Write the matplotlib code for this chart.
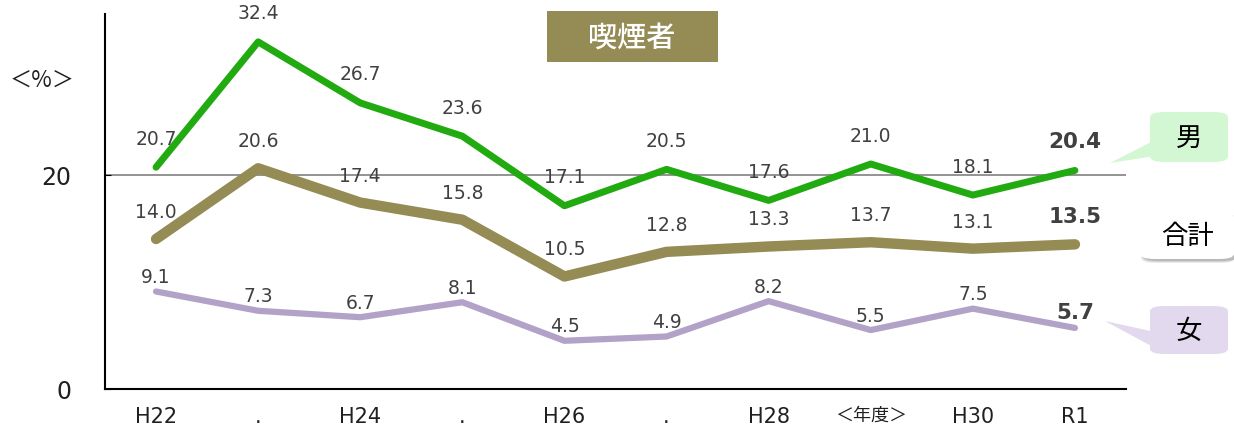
import matplotlib
matplotlib.use("Agg")
import matplotlib.pyplot as plt
from matplotlib.patches import FancyBboxPatch, Polygon

plt.rcParams['font.family'] = ['DejaVu Sans', 'Noto Sans CJK JP']

# データ
years = ['H22', '.', 'H24', '.', 'H26', '.', 'H28', '＜年度＞', 'H30', 'R1']
male = [20.7, 32.4, 26.7, 23.6, 17.1, 20.5, 17.6, 21.0, 18.1, 20.4]
total = [14.0, 20.6, 17.4, 15.8, 10.5, 12.8, 13.3, 13.7, 13.1, 13.5]
female = [9.1, 7.3, 6.7, 8.1, 4.5, 4.9, 8.2, 5.5, 7.5, 5.7]

c_male = '#22AA11'
c_total = '#948B55'
c_female = '#B3A2C7'

W, H = 1234, 435
fig = plt.figure(figsize=(W / 100, H / 100), dpi=100)
ax = fig.add_axes([105 / W, 1 - 390 / H, (1126 - 105) / W, (390 - 15) / H])

x = list(range(len(years)))
ax.axhline(20, color='#808080', lw=1.2, zorder=1)
ax.plot(x, female, color=c_female, lw=4.5, solid_capstyle='round', zorder=2)
ax.plot(x, total, color=c_total, lw=7.5, solid_capstyle='round', zorder=3)
ax.plot(x, male, color=c_male, lw=5, solid_capstyle='round', zorder=4)

def labels(vals, dy):
    for i, v in enumerate(vals):
        last = i == len(vals) - 1
        ax.annotate(f'{v:.1f}', (i, v), xytext=(0, dy), textcoords='offset points',
                    ha='center', va='bottom', fontsize=15.5 if last else 13.5,
                    fontweight='bold' if last else 'normal', color='#404040',
                    zorder=5)

labels(male, 14)
labels(total, 13)
labels(female, 4)

ax.set_xlim(-0.5, 9.5)
ax.set_ylim(0, 35)
ax.set_yticks([0, 20])
ax.set_yticklabels(['0', '20'], fontsize=17, color='#202020')
ax.set_xticks(x)
ax.set_xticklabels(years, fontsize=15, color='#202020')
for t in ax.get_xticklabels():
    if t.get_text() == '＜年度＞':
        t.set_fontsize(13)
        t.set_family(['Noto Sans CJK JP'])
ax.tick_params(axis='x', length=0, pad=12)
ax.tick_params(axis='y', length=4, direction='in', pad=24)
ax.spines['top'].set_visible(False)
ax.spines['right'].set_visible(False)
ax.spines['left'].set_linewidth(1.5)
ax.spines['bottom'].set_linewidth(1.5)

fig.text(42 / W, 1 - 80 / H, '＜%＞', ha='center', va='center', fontsize=16,
         color='#202020', family=['Noto Sans CJK JP'])

# タイトル
def px(xp, yp):
    return (xp / W, 1 - yp / H)

fig.patches.append(FancyBboxPatch(px(547, 63), 171 / W, 51 / H,
                                  boxstyle='square,pad=0', transform=fig.transFigure,
                                  facecolor=c_total, edgecolor='none'))
fig.text(*px(632, 38), '喫煙者', ha='center', va='center', fontsize=21,
         color='white', fontweight='medium', family=['Noto Sans CJK JP'])

# 凡例ボックス
def callout(x0, y0, x1, y1, face, label, tip=None, shadow=False):
    if tip is not None:
        fig.patches.append(Polygon([px(*tip), px(x0 + 5, y1 - 22), px(x0 + 5, y1 - 6)],
                                   closed=True, transform=fig.transFigure,
                                   facecolor=face, edgecolor='none'))
    if shadow:
        for k, a in enumerate([0.08, 0.10, 0.12]):
            fig.patches.append(FancyBboxPatch(px(x0 + 1 + k, y1 + 4 - k), (x1 - x0) / W,
                                              (y1 - y0) / H,
                                              boxstyle='round,pad=0,rounding_size=0.012',
                                              transform=fig.transFigure,
                                              facecolor='black', alpha=a, edgecolor='none'))
    fig.patches.append(FancyBboxPatch(px(x0, y1), (x1 - x0) / W, (y1 - y0) / H,
                                      boxstyle='round,pad=0,rounding_size=0.012',
                                      transform=fig.transFigure,
                                      facecolor=face, edgecolor='none'))
    fig.text(*px((x0 + x1) / 2, (y0 + y1) / 2), label, ha='center', va='center',
             fontsize=19, color='black', family=['Noto Sans CJK JP'])

callout(1150, 113, 1228, 163, '#D2F7D2', '男', tip=(1110, 164))
callout(1140, 213, 1234, 260, 'white', '合計', shadow=True)
callout(1150, 307, 1228, 355, '#E2D9EE', '女', tip=(1105, 322))

fig.savefig('out.png', dpi=100)
